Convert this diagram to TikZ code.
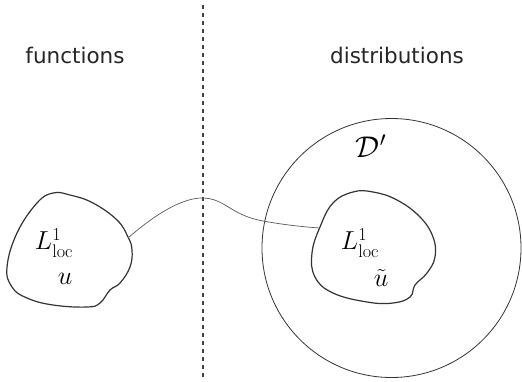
\RequirePackage{fix-cm}
\documentclass[tikz,border=0pt]{standalone}
\usepackage{amsmath,amssymb}
\usepackage{fontspec}
\setsansfont{DejaVu Sans}
\usetikzlibrary{positioning}

\begin{document}
\begin{tikzpicture}[
  x=1pt, y=-1pt,
  head/.style={font=\sffamily\fontsize{21.5}{25}\selectfont, text=black!85},
  mlabel/.style={font=\fontsize{26}{30}\selectfont, inner sep=0pt},
  blob/.style={draw=black!80, line width=1.2pt},
  link/.style={draw=black!65, line width=0.7pt},
]
\useasboundingbox (0,0) rectangle (522,381);
% separator
\draw[black!75, line width=1.2pt, dash pattern=on 4pt off 4pt] (203,5) -- (203,378);
% headings
\node[head] (fun) at (75,55) {functions};
\node[head] (dist) at (397,55) {distributions};
% space of distributions
\draw[black!80, line width=0.8pt] (391.5,248) circle (129.5);
\node[font=\fontsize{30}{34}\selectfont, inner sep=0pt] (dprime) at (371,146) {$\mathcal{D}'$};
% the two L^1_loc sets
\draw[blob] plot[smooth cycle, tension=0.7] coordinates {
  (53,193) (37,203) (17,233) (7,267) (12,287) (27,298) (53,305) (87,307)
  (100,303) (110,290) (120,283) (130,267) (132,250) (128,237) (117,220)
  (93,203) (70,195)};
\draw[blob] plot[smooth cycle, tension=0.7] coordinates {
  (353,192) (333,203) (320,227) (312,253) (315,277) (333,293) (367,302)
  (393,303) (410,297) (415,285) (427,273) (435,257) (433,237) (420,217)
  (397,200) (373,192)};
\node[mlabel] (lfun) at (54,243) {$L^1_{\mathrm{loc}}$};
\node[mlabel] (u) at (65,279) {$u$};
\node[mlabel] (ldist) at (360,243) {$L^1_{\mathrm{loc}}$};
\node[mlabel] (ut) at (381,278) {$\tilde u$};
% embedding
\coordinate (fa) at (128,238);
\coordinate (top) at (202,198);
\coordinate (fb) at (320,228);
\draw[link] (fa) .. controls (160,210) and (185,198) .. (top)
  .. controls (225,198) and (230,215) .. (263,221)
  .. controls (285,225) and (305,227) .. (fb);
\end{tikzpicture}
\end{document}
